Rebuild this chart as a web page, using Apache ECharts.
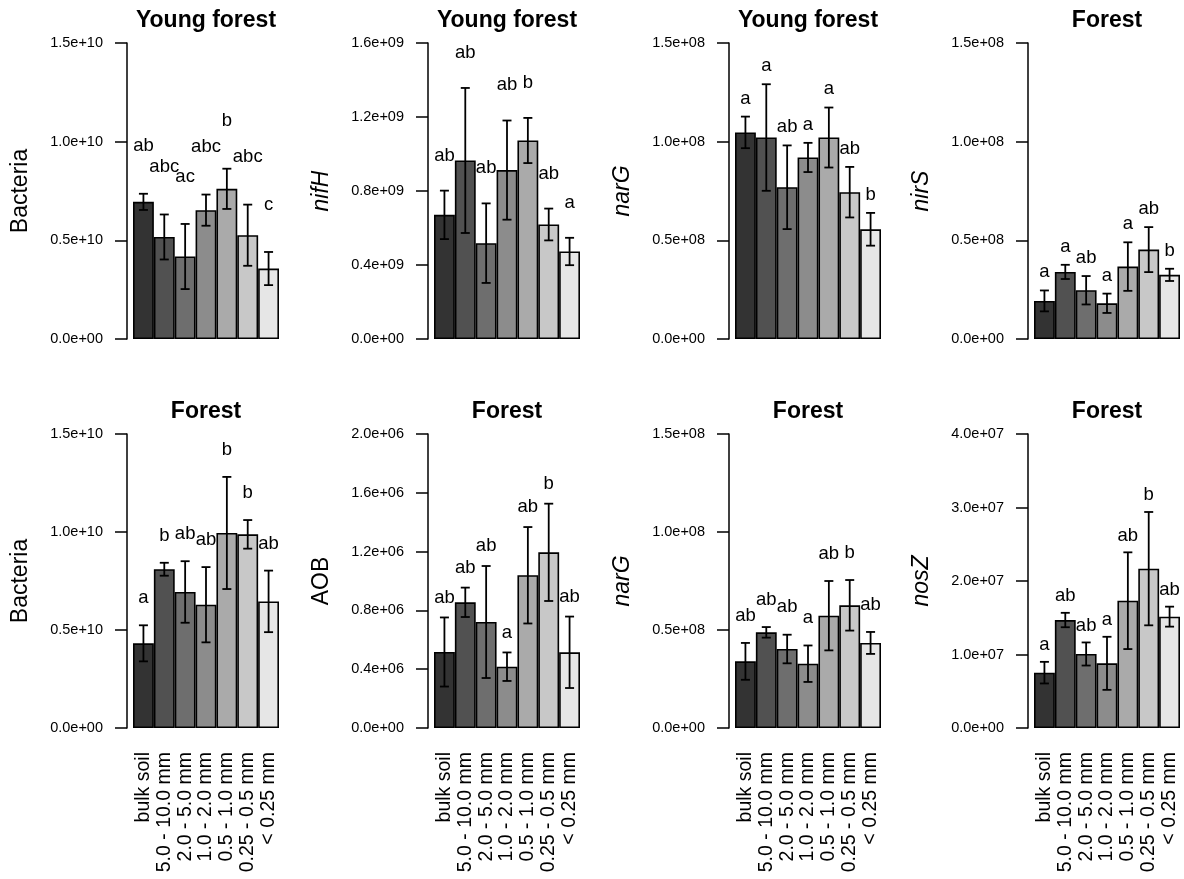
<!DOCTYPE html>
<html>
<head>
<meta charset="utf-8">
<script src="https://cdn.jsdelivr.net/npm/echarts@6/dist/echarts.min.js"></script>
<style>
html,body{margin:0;padding:0;background:#fff;}
#chart{width:1184px;height:879px;}
</style>
</head>
<body>
<div id="chart"></div>
<script>
// ---------- data ----------
const categories = ['bulk soil', '5.0 - 10.0 mm', '2.0 - 5.0 mm', '1.0 - 2.0 mm', '0.5 - 1.0 mm', '0.25 - 0.5 mm', '< 0.25 mm'];

const panelTitles = ['Young forest', 'Young forest', 'Young forest', 'Forest', 'Forest', 'Forest', 'Forest', 'Forest'];
const panelYNames = ['Bacteria', 'nifH', 'narG', 'nirS', 'Bacteria', 'AOB', 'narG', 'nosZ'];

const bactYoungMean = [6.95e9, 5.17e9, 4.18e9, 6.53e9, 7.61e9, 5.26e9, 3.57e9];
const bactYoungSE   = [0.41e9, 1.14e9, 1.65e9, 0.79e9, 1.02e9, 1.55e9, 0.84e9];
const bactYoungLetters = ['ab', 'abc', 'ac', 'abc', 'b', 'abc', 'c'];

const nifHYoungMean = [6.71e8, 9.65e8, 5.18e8, 9.13e8, 10.73e8, 6.19e8, 4.73e8];
const nifHYoungSE   = [1.31e8, 3.92e8, 2.15e8, 2.68e8, 1.22e8, 0.86e8, 0.74e8];
const nifHYoungLetters = ['ab', 'ab', 'ab', 'ab', 'b', 'ab', 'a'];

const narGYoungMean = [1.047e8, 1.021e8, 0.769e8, 0.920e8, 1.021e8, 0.744e8, 0.556e8];
const narGYoungSE   = [0.080e8, 0.270e8, 0.212e8, 0.074e8, 0.152e8, 0.128e8, 0.083e8];
const narGYoungLetters = ['a', 'a', 'ab', 'a', 'a', 'ab', 'b'];

const nirSForestMean = [0.193e8, 0.340e8, 0.247e8, 0.181e8, 0.367e8, 0.453e8, 0.325e8];
const nirSForestSE   = [0.053e8, 0.036e8, 0.072e8, 0.049e8, 0.123e8, 0.114e8, 0.031e8];
const nirSForestLetters = ['a', 'a', 'ab', 'a', 'a', 'ab', 'b'];

const bactForestMean = [4.32e9, 8.10e9, 6.94e9, 6.29e9, 9.95e9, 9.88e9, 6.46e9];
const bactForestSE   = [0.92e9, 0.33e9, 1.57e9, 1.92e9, 2.86e9, 0.73e9, 1.57e9];
const bactForestLetters = ['a', 'b', 'ab', 'ab', 'b', 'b', 'ab'];

const aobForestMean = [5.17e5, 8.55e5, 7.21e5, 4.17e5, 10.39e5, 11.95e5, 5.15e5];
const aobForestSE   = [2.35e5, 1.00e5, 3.81e5, 0.97e5, 3.28e5, 3.31e5, 2.43e5];
const aobForestLetters = ['ab', 'ab', 'ab', 'a', 'ab', 'b', 'ab'];

const narGForestMean = [0.340e8, 0.488e8, 0.403e8, 0.328e8, 0.573e8, 0.626e8, 0.434e8];
const narGForestSE   = [0.094e8, 0.027e8, 0.073e8, 0.093e8, 0.177e8, 0.129e8, 0.056e8];
const narGForestLetters = ['ab', 'ab', 'ab', 'a', 'ab', 'b', 'ab'];

const nosZForestMean = [0.753e7, 1.469e7, 1.007e7, 0.880e7, 1.732e7, 2.168e7, 1.515e7];
const nosZForestSE   = [0.147e7, 0.098e7, 0.157e7, 0.361e7, 0.658e7, 0.771e7, 0.136e7];
const nosZForestLetters = ['a', 'ab', 'ab', 'a', 'ab', 'b', 'ab'];

const ticks1e10 = [0, 0.5e10, 1.0e10, 1.5e10];
const ticks1e10Labels = ['0.0e+00', '0.5e+10', '1.0e+10', '1.5e+10'];
const ticks1e9 = [0, 0.4e9, 0.8e9, 1.2e9, 1.6e9];
const ticks1e9Labels = ['0.0e+00', '0.4e+09', '0.8e+09', '1.2e+09', '1.6e+09'];
const ticks1e8 = [0, 0.5e8, 1.0e8, 1.5e8];
const ticks1e8Labels = ['0.0e+00', '0.5e+08', '1.0e+08', '1.5e+08'];
const ticks1e6 = [0, 0.4e6, 0.8e6, 1.2e6, 1.6e6, 2.0e6];
const ticks1e6Labels = ['0.0e+00', '0.4e+06', '0.8e+06', '1.2e+06', '1.6e+06', '2.0e+06'];
const ticks1e7 = [0, 1.0e7, 2.0e7, 3.0e7, 4.0e7];
const ticks1e7Labels = ['0.0e+00', '1.0e+07', '2.0e+07', '3.0e+07', '4.0e+07'];

// letter offset above error bar top, per panel (data units)
const letterGaps = [0.24e10, 0.19e9, 0.092e8, 0.092e8, 0.138e10, 0.135e6, 0.14e8, 0.23e7];

// ---------- assembly ----------
const panels = [
  {mean: bactYoungMean, se: bactYoungSE, letters: bactYoungLetters, ticks: ticks1e10, tl: ticks1e10Labels},
  {mean: nifHYoungMean, se: nifHYoungSE, letters: nifHYoungLetters, ticks: ticks1e9, tl: ticks1e9Labels},
  {mean: narGYoungMean, se: narGYoungSE, letters: narGYoungLetters, ticks: ticks1e8, tl: ticks1e8Labels},
  {mean: nirSForestMean, se: nirSForestSE, letters: nirSForestLetters, ticks: ticks1e8, tl: ticks1e8Labels},
  {mean: bactForestMean, se: bactForestSE, letters: bactForestLetters, ticks: ticks1e10, tl: ticks1e10Labels},
  {mean: aobForestMean, se: aobForestSE, letters: aobForestLetters, ticks: ticks1e6, tl: ticks1e6Labels},
  {mean: narGForestMean, se: narGForestSE, letters: narGForestLetters, ticks: ticks1e8, tl: ticks1e8Labels},
  {mean: nosZForestMean, se: nosZForestSE, letters: nosZForestLetters, ticks: ticks1e7, tl: ticks1e7Labels}
];

const barColors = ['#333333', '#515151', '#6e6e6e', '#8c8c8c', '#aaaaaa', '#c8c8c8', '#e6e6e6'];
const FONT = '"Liberation Sans", Arial, Helvetica, sans-serif';
const colLeft = [133, 434, 735, 1034];
const plotW = 146;
const rowTop = [43, 434];
const rowH = [296, 294];
const titleTop = [9, 400];
const italicNames = {nifH: 1, narG: 1, nirS: 1, nosZ: 1};

const grid = [], xAxis = [], yAxis = [], series = [], title = [];

panels.forEach(function (p, i) {
  const col = i % 4, row = Math.floor(i / 4);
  const interval = p.ticks[1];
  const ymax = p.ticks[p.ticks.length - 1];
  grid.push({left: colLeft[col], top: rowTop[row], width: plotW, height: rowH[row], containLabel: false});
  title.push({
    text: panelTitles[i], left: colLeft[col] + plotW / 2, top: titleTop[row], textAlign: 'center', padding: 0,
    textStyle: {fontFamily: FONT, fontSize: 23, fontWeight: 'bold', color: '#000'}
  });
  xAxis.push({
    type: 'category', gridIndex: i, data: categories, boundaryGap: true,
    axisLine: {show: false}, axisTick: {show: false}, splitLine: {show: false},
    axisLabel: {show: row === 1, rotate: 90, margin: 24, interval: 0, fontFamily: FONT, fontSize: 19.5, color: '#000'}
  });
  yAxis.push({
    type: 'value', gridIndex: i, min: 0, max: ymax, interval: interval, offset: 6,
    name: panelYNames[i], nameLocation: 'middle', nameGap: 95,
    nameTextStyle: {fontFamily: FONT, fontSize: 23, color: '#000', fontStyle: italicNames[panelYNames[i]] ? 'italic' : 'normal'},
    axisLine: {show: true, lineStyle: {color: '#000', width: 1.5}},
    axisTick: {show: true, length: 12, lineStyle: {color: '#000', width: 1.5}},
    splitLine: {show: false},
    axisLabel: {
      margin: 24, fontFamily: FONT, fontSize: 14.5, color: '#000',
      formatter: function (v) { const k = Math.round(v / interval); return p.tl[k] !== undefined ? p.tl[k] : ''; }
    }
  });
  series.push({
    type: 'bar', xAxisIndex: i, yAxisIndex: i, barWidth: '100%', barCategoryGap: 0,
    data: p.mean.map(function (v, k) { return {value: v, itemStyle: {color: barColors[k]}}; }),
    itemStyle: {borderColor: '#000', borderWidth: 1.6}, silent: true, z: 2
  });
  series.push({
    type: 'custom', xAxisIndex: i, yAxisIndex: i, z: 3, silent: true,
    data: p.mean.map(function (v, k) { return [k, v, p.se[k]]; }),
    encode: {x: 0, y: 1},
    renderItem: function (params, api) {
      const x = api.value(0), m = api.value(1), s = api.value(2);
      const t = api.coord([x, m + s]), b = api.coord([x, m - s]);
      const hw = 4.5;
      const st = {stroke: '#000', lineWidth: 1.8};
      return {type: 'group', children: [
        {type: 'line', shape: {x1: t[0], y1: t[1], x2: b[0], y2: b[1]}, style: st},
        {type: 'line', shape: {x1: t[0] - hw, y1: t[1], x2: t[0] + hw, y2: t[1]}, style: st},
        {type: 'line', shape: {x1: b[0] - hw, y1: b[1], x2: b[0] + hw, y2: b[1]}, style: st}
      ]};
    }
  });
  series.push({
    type: 'custom', xAxisIndex: i, yAxisIndex: i, z: 4, silent: true,
    data: p.mean.map(function (v, k) { return [k, v + p.se[k] + letterGaps[i]]; }),
    encode: {x: 0, y: 1},
    renderItem: function (params, api) {
      const c = api.coord([api.value(0), api.value(1)]);
      return {type: 'text', x: c[0], y: c[1], style: {
        text: p.letters[params.dataIndex], fill: '#000', fontFamily: FONT, fontSize: 18.5,
        align: 'center', verticalAlign: 'middle'
      }};
    }
  });
});

const chart = echarts.init(document.getElementById('chart'), null, {renderer: 'canvas'});
chart.setOption({
  animation: false, backgroundColor: '#fff',
  title: title, grid: grid, xAxis: xAxis, yAxis: yAxis, series: series
});
</script>
</body>
</html>
